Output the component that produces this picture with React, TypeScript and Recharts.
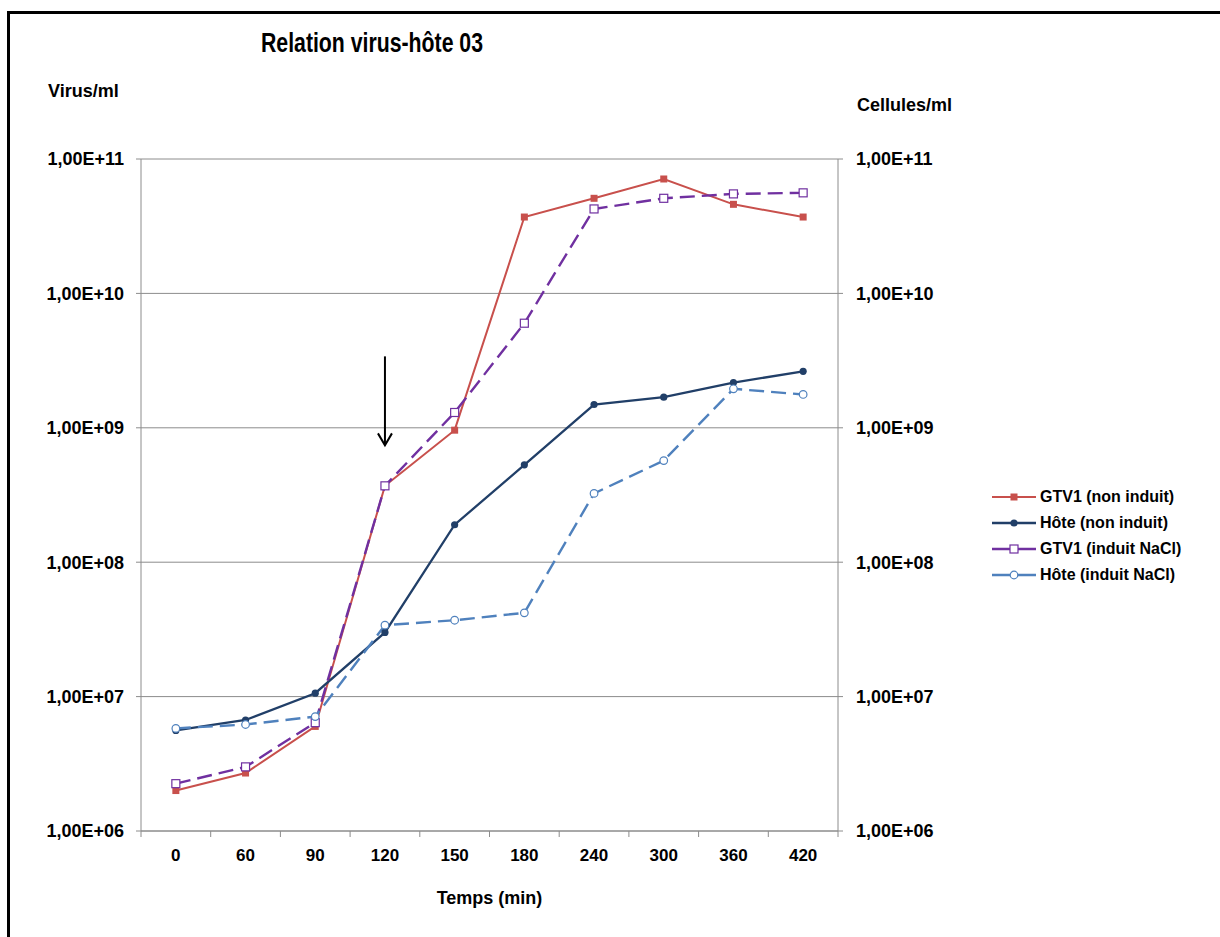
import { CartesianGrid, Line, LineChart, ReferenceLine, XAxis, YAxis } from "recharts";

const times = ["0", "60", "90", "120", "150", "180", "240", "300", "360", "420"];

const gtv1NonInduit = [2.0e6, 2.7e6, 6.0e6, 3.7e8, 9.6e8, 3.7e10, 5.1e10, 7.1e10, 4.6e10, 3.7e10];
const hoteNonInduit = [5.6e6, 6.7e6, 1.06e7, 3.0e7, 1.9e8, 5.3e8, 1.49e9, 1.69e9, 2.17e9, 2.63e9];
const gtv1InduitNaCl = [2.25e6, 3.0e6, 6.4e6, 3.7e8, 1.3e9, 6.0e9, 4.25e10, 5.1e10, 5.5e10, 5.6e10];
const hoteInduitNaCl = [5.8e6, 6.2e6, 7.1e6, 3.4e7, 3.7e7, 4.2e7, 3.25e8, 5.7e8, 1.95e9, 1.77e9];

const yTicks = [1e6, 1e7, 1e8, 1e9, 1e10, 1e11];

// arrow marking the induction time
const arrowTime = "120";
const arrowFrom = 3.4e9;
const arrowTo = 7.4e8;

const rows = times.map((t, i) => ({
    t,
    gtv1: gtv1NonInduit[i],
    hote: hoteNonInduit[i],
    gtv1NaCl: gtv1InduitNaCl[i],
    hoteNaCl: hoteInduitNaCl[i],
}));

const RED = "#C8504C";
const NAVY = "#213F68";
const PURPLE = "#7030A0";
const LIGHT = "#4F81BD";
const GRID = "#8C8C8C";
const FONT = "'Liberation Sans', Arial, sans-serif";

type Marker = "square" | "dot" | "openSquare" | "openDot";

const series: { key: string; name: string; color: string; dash?: string; width: number; marker: Marker; axis: string }[] = [
    { key: "gtv1", name: "GTV1 (non induit)", color: RED, width: 2, marker: "square", axis: "left" },
    { key: "hote", name: "Hôte (non induit)", color: NAVY, width: 2.3, marker: "dot", axis: "right" },
    { key: "gtv1NaCl", name: "GTV1 (induit NaCl)", color: PURPLE, dash: "15 7", width: 2.4, marker: "openSquare", axis: "left" },
    { key: "hoteNaCl", name: "Hôte (induit NaCl)", color: LIGHT, dash: "15 7", width: 2.4, marker: "openDot", axis: "right" },
];

function markerShape(kind: Marker, color: string, cx: number, cy: number, key?: string | number) {
    if (kind === "square") return <rect key={key} x={cx - 3.5} y={cy - 3.5} width={7} height={7} fill={color} />;
    if (kind === "dot") return <circle key={key} cx={cx} cy={cy} r={3.6} fill={color} />;
    if (kind === "openSquare")
        return <rect key={key} x={cx - 4} y={cy - 4} width={8} height={8} fill="#fff" stroke={color} strokeWidth={1.2} />;
    return <circle key={key} cx={cx} cy={cy} r={3.8} fill="#fff" stroke={color} strokeWidth={1.2} />;
}

const sci = (v: number) => `1,00E+${String(Math.round(Math.log10(v))).padStart(2, "0")}`;

const X_TICK_MARGIN = 18;

function XTick(props: any) {
    const { x, y, payload } = props;
    const half = payload?.offset ?? 0;
    const axisY = y - X_TICK_MARGIN;
    const last = payload.value === times[times.length - 1];
    return (
        <g>
            <line x1={x - half} y1={axisY} x2={x - half} y2={axisY + 6} stroke={GRID} />
            {last && <line x1={x + half} y1={axisY} x2={x + half} y2={axisY + 6} stroke={GRID} />}
            <text x={x} y={y} dy="0.71em" textAnchor="middle" fontSize={17} fontWeight={700} fill="#000">
                {payload.value}
            </text>
        </g>
    );
}

function Arrow(props: any) {
    const { x1, y1, x2, y2 } = props;
    return (
        <g>
            <line x1={x1} y1={y1} x2={x2} y2={y2} stroke="#000" strokeWidth={2} />
            <polyline points={`${x2 - 7},${y2 - 12} ${x2},${y2} ${x2 + 7},${y2 - 12}`} fill="none" stroke="#000" strokeWidth={2} />
        </g>
    );
}

export default function App() {
    return (
        <div
            style={{
                position: "absolute",
                left: 0,
                top: 0,
                width: 1220,
                height: 937,
                overflow: "hidden",
                background: "#fff",
                fontFamily: FONT,
            }}
        >
            <div
                style={{
                    position: "absolute",
                    left: 7,
                    top: 11,
                    width: 1400,
                    height: 1100,
                    border: "3px solid #000",
                }}
            />

            <LineChart
                width={1220}
                height={937}
                data={rows}
                margin={{ top: 159, right: 282, bottom: 31, left: 41 }}
                style={{ position: "absolute", left: 0, top: 0 }}
            >
                <CartesianGrid vertical={false} stroke={GRID} yAxisId="left" />

                <XAxis
                    dataKey="t"
                    scale="band"
                    interval={0}
                    height={75}
                    stroke={GRID}
                    tickLine={false}
                    tickSize={0}
                    tickMargin={X_TICK_MARGIN}
                    tick={<XTick />}
                    label={{
                        value: "Temps (min)",
                        position: "insideBottom",
                        offset: 2,
                        fontSize: 18,
                        fontWeight: 700,
                        fill: "#000",
                    }}
                />

                <YAxis
                    yAxisId="left"
                    scale="log"
                    domain={[1e6, 1e11]}
                    ticks={yTicks}
                    allowDataOverflow
                    width={100}
                    stroke={GRID}
                    tickSize={5}
                    tickMargin={12}
                    tickFormatter={sci}
                    tick={{ fontSize: 18, fontWeight: 700, fill: "#000" }}
                />
                <YAxis
                    yAxisId="right"
                    orientation="right"
                    scale="log"
                    domain={[1e6, 1e11]}
                    ticks={yTicks}
                    allowDataOverflow
                    width={100}
                    stroke={GRID}
                    tickSize={5}
                    tickMargin={13}
                    tickFormatter={sci}
                    tick={{ fontSize: 18, fontWeight: 700, fill: "#000" }}
                />

                {series.map((s) => (
                    <Line
                        key={s.key}
                        yAxisId={s.axis}
                        dataKey={s.key}
                        name={s.name}
                        stroke={s.color}
                        strokeWidth={s.width}
                        strokeDasharray={s.dash}
                        isAnimationActive={false}
                        dot={(p: any) => markerShape(s.marker, s.color, p.cx, p.cy, `${s.key}-${p.index}`)}
                        activeDot={false}
                    />
                ))}

                <ReferenceLine
                    yAxisId="left"
                    segment={[
                        { x: arrowTime, y: arrowFrom },
                        { x: arrowTime, y: arrowTo },
                    ]}
                    shape={<Arrow />}
                />
            </LineChart>

            <svg
                width={1220}
                height={937}
                style={{ position: "absolute", left: 0, top: 0, pointerEvents: "none" }}
                fontWeight={700}
            >
                <text x={372} y={52} textAnchor="middle" fontSize={27} textLength={222} lengthAdjust="spacingAndGlyphs">
                    Relation virus-hôte 03
                </text>
                <text x={48} y={97} fontSize={18}>
                    Virus/ml
                </text>
                <text x={857} y={111} fontSize={18}>
                    Cellules/ml
                </text>
            </svg>

            <div style={{ position: "absolute", left: 992, top: 484, fontSize: 16, fontWeight: 700 }}>
                {series.map((s) => (
                    <div key={s.key} style={{ display: "flex", alignItems: "center", height: 26 }}>
                        <svg width={44} height={14} style={{ marginRight: 4 }}>
                            <line x1={0} y1={7} x2={44} y2={7} stroke={s.color} strokeWidth={s.width} />
                            {markerShape(s.marker, s.color, 22, 7)}
                        </svg>
                        <span>{s.name}</span>
                    </div>
                ))}
            </div>
        </div>
    );
}
